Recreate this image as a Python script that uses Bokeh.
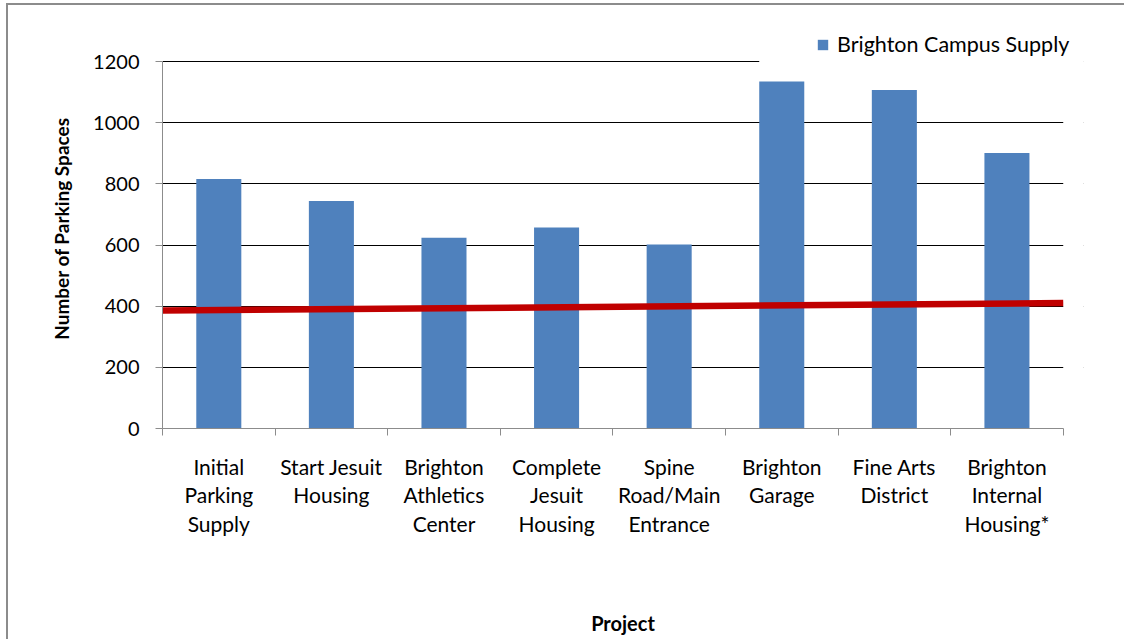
from bokeh.plotting import figure
from bokeh.models import Range1d, FixedTicker, Legend, LegendItem, BoxAnnotation, ColumnDataSource
from bokeh.embed import file_html
from bokeh.resources import INLINE

# ---- data ----
categories = ["Initial Parking Supply", "Start Jesuit Housing", "Brighton Athletics Center",
              "Complete Jesuit Housing", "Spine Road/Main Entrance", "Brighton Garage",
              "Fine Arts District", "Brighton Internal Housing*"]
tick_labels = ["Initial\nParking\nSupply", "Start Jesuit\nHousing", "Brighton\nAthletics\nCenter",
               "Complete\nJesuit\nHousing", "Spine\nRoad/Main\nEntrance", "Brighton\nGarage",
               "Fine Arts\nDistrict", "Brighton\nInternal\nHousing*"]
supply = [816, 744, 624, 657, 602, 1135, 1107, 901]
demand_edges = [386, 410]          # red line value at left and right edge of the chart
y_ticks = [0, 200, 400, 600, 800, 1000, 1200]
series_name = "Brighton Campus Supply"

FONT = "Lato"
BAR_W = 0.4
Y_AXIS_MAX = 1200
Y_VIEW_MAX = 1308   # headroom so the legend sits inside the frame
n = len(categories)
X_VIEW_MAX = n + 0.18  # room on the right for the legend text
centers = [i + 0.5 for i in range(n)]

p = figure(width=1118, height=636, output_backend="svg", toolbar_location=None, title=None,
           x_range=Range1d(0, X_VIEW_MAX), y_range=Range1d(0, Y_VIEW_MAX),
           min_border_left=154, min_border_right=43, min_border_top=23, min_border_bottom=213)
p.outline_line_color = None
p.background_fill_color = "white"
p.border_fill_color = "white"
p.styles = {"margin-left": "8px", "margin-top": "5px",
            "box-shadow": "-2px -2px 0px 0px #8c8c8c"}

src = ColumnDataSource(dict(x=centers, top=supply, cat=categories))
bars = p.vbar(x="x", top="top", width=BAR_W, bottom=0, source=src,
              fill_color="#4F81BD", line_color=None)

p.line(x=[0, n], y=demand_edges, line_color="#C00000", line_width=6.5)

# grid
p.xgrid.grid_line_color = None
p.ygrid.ticker = FixedTicker(ticks=y_ticks)
p.ygrid.grid_line_color = "#000000"
p.ygrid.grid_line_width = 1

# keep gridlines inside the category area, and hide the top gridline behind the legend
p.add_layout(BoxAnnotation(left=n, right=X_VIEW_MAX + 1, bottom=-50, top=Y_VIEW_MAX + 50,
                           fill_color="white", fill_alpha=1.0, line_color=None, level="underlay"))
gi = categories.index("Brighton Garage")
p.add_layout(BoxAnnotation(left=centers[gi] - BAR_W / 2, right=X_VIEW_MAX + 1, bottom=1190, top=1230,
                           fill_color="white", fill_alpha=1.0, line_color=None, level="underlay"))

# y axis
ya = p.yaxis[0]
ya.ticker = FixedTicker(ticks=y_ticks)
ya.bounds = (0, Y_AXIS_MAX)
ya.axis_line_color = "#8c8c8c"
ya.major_tick_line_color = "#8c8c8c"
ya.major_tick_out = 7
ya.major_tick_in = 0
ya.minor_tick_line_color = None
ya.major_label_standoff = 16
ya.major_label_text_font = FONT
ya.major_label_text_font_size = "20px"
ya.major_label_text_color = "#000000"
ya.axis_label = "Number of Parking Spaces"
ya.axis_label_text_font = FONT
ya.axis_label_text_font_style = "bold"
ya.axis_label_text_font_size = "19px"
ya.axis_label_text_color = "#000000"
ya.axis_label_standoff = 17

# x axis
xa = p.xaxis[0]
xa.ticker = FixedTicker(ticks=centers, minor_ticks=list(range(n + 1)))
xa.bounds = (0, n)
xa.major_label_overrides = {c: t for c, t in zip(centers, tick_labels)}
xa.axis_line_color = "#8c8c8c"
xa.major_tick_line_color = None
xa.major_tick_out = 7
xa.major_tick_in = 0
xa.minor_tick_line_color = "#8c8c8c"
xa.minor_tick_out = 7
xa.minor_tick_in = 0
xa.major_label_standoff = 18
xa.major_label_text_font = FONT
xa.major_label_text_font_size = "21px"
xa.major_label_text_color = "#000000"
xa.major_label_text_line_height = 1.15
xa.axis_label = "Project"
xa.axis_label_text_font = FONT
xa.axis_label_text_font_style = "bold"
xa.axis_label_text_font_size = "20px"
xa.axis_label_text_color = "#000000"
xa.axis_label_standoff = 72

legend = Legend(items=[LegendItem(label=series_name, renderers=[bars])],
                location=(654, 371), orientation="vertical")
legend.padding = 0
legend.spacing = 0
legend.margin = 0
legend.glyph_width = 13
legend.glyph_height = 13
legend.label_standoff = 8
legend.label_height = 20
legend.label_text_font = FONT
legend.label_text_font_size = "21.5px"
legend.label_text_color = "#000000"
legend.border_line_color = None
legend.background_fill_color = "white"
legend.background_fill_alpha = 1.0
p.add_layout(legend, "center")

open("out.html", "w").write(file_html(p, INLINE))
